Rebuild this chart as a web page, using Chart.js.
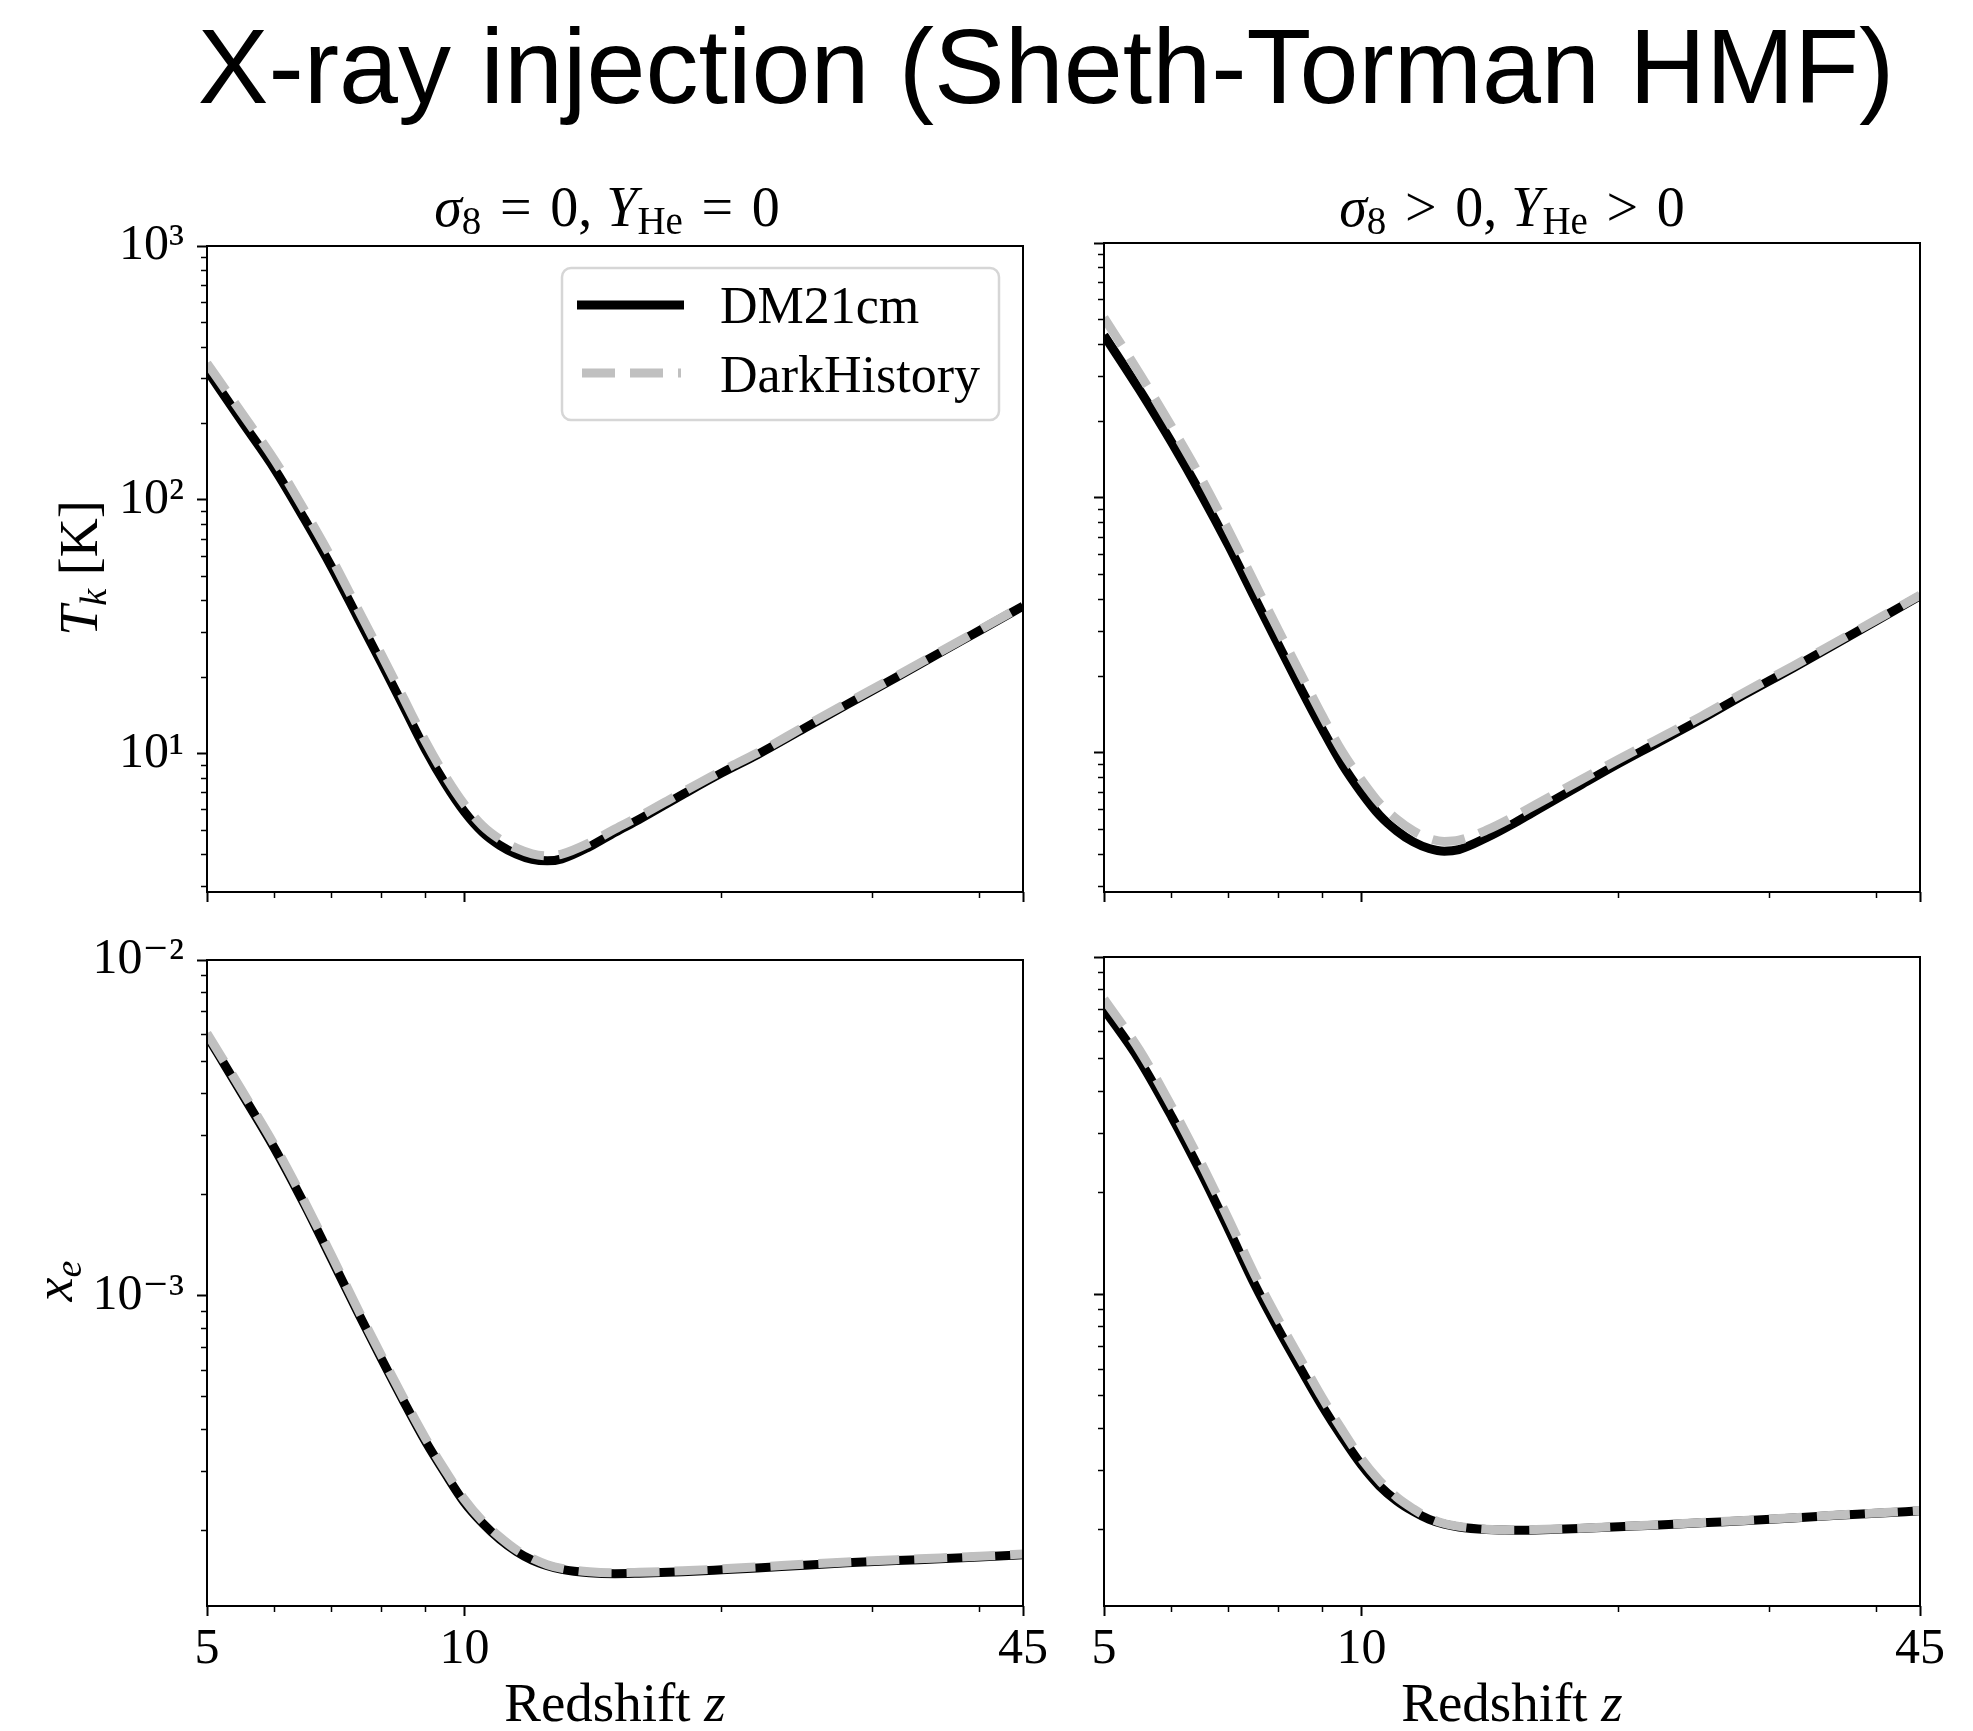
<!DOCTYPE html>
<html><head><meta charset="utf-8">
<script src="https://cdn.jsdelivr.net/npm/chart.js@4.4.1/dist/chart.umd.min.js"></script>
<style>
html,body{margin:0;padding:0;background:#fff;}
#wrap{position:relative;width:1973px;height:1731px;overflow:hidden;background:#fff;}
canvas{position:absolute;}
#ov{position:absolute;left:0;top:0;}
#ov text{white-space:pre;}
</style></head><body>
<div id="wrap">
<canvas id="cTL"></canvas>
<canvas id="cTR"></canvas>
<canvas id="cBL"></canvas>
<canvas id="cBR"></canvas>
<svg id="ov" width="1973" height="1731" xmlns="http://www.w3.org/2000/svg">
  <text x="1046" y="103" text-anchor="middle" font-family="Liberation Sans, Arial, Helvetica, sans-serif" font-size="106" fill="#000">X-ray injection (Sheth-Torman HMF)</text>
  <g font-family="Liberation Serif, DejaVu Serif, serif" fill="#000">
    <text x="607" y="226" text-anchor="middle" font-size="56"><tspan font-style="italic">σ</tspan><tspan font-size="39" dy="8">8</tspan><tspan dy="-8">&#8196;=&#8196;0, </tspan><tspan font-style="italic">Y</tspan><tspan font-size="39" dy="8">He</tspan><tspan dy="-8">&#8196;=&#8196;0</tspan></text>
    <text x="1512" y="226" text-anchor="middle" font-size="56"><tspan font-style="italic">σ</tspan><tspan font-size="39" dy="8">8</tspan><tspan dy="-8">&#8196;&gt;&#8196;0, </tspan><tspan font-style="italic">Y</tspan><tspan font-size="39" dy="8">He</tspan><tspan dy="-8">&#8196;&gt;&#8196;0</tspan></text>
    <text transform="translate(97,568) rotate(-90)" text-anchor="middle" font-size="54"><tspan font-style="italic">T</tspan><tspan font-style="italic" font-size="38" dy="9">k</tspan><tspan dy="-9"> [K]</tspan></text>
    <text transform="translate(72,1281) rotate(-90)" text-anchor="middle" font-size="54"><tspan font-style="italic">x</tspan><tspan font-style="italic" font-size="38" dy="9">e</tspan></text>
    <text x="615" y="1721" text-anchor="middle" font-size="55">Redshift <tspan font-style="italic">z</tspan></text>
    <text x="1512" y="1721" text-anchor="middle" font-size="55">Redshift <tspan font-style="italic">z</tspan></text>
    <rect x="562" y="268" width="437" height="152" rx="9" ry="9" fill="#fff" fill-opacity="0.8" stroke="#d6d6d6" stroke-width="2.5"/>
    <line x1="577" y1="305" x2="684" y2="305" stroke="#000" stroke-width="9"/>
    <line x1="582" y1="373" x2="681" y2="373" stroke="#c0c0c0" stroke-width="9" stroke-dasharray="33 15"/>
    <text x="720" y="323" font-size="52">DM21cm</text>
    <text x="720" y="392" font-size="52">DarkHistory</text>
  </g>
</svg>
</div>
<script>
// ---------------- data ----------------
const redshift = [5, 5.5, 6, 6.5, 7, 7.5, 8, 8.5, 9, 9.5, 10, 10.5, 11, 11.5, 12, 12.5, 13, 14, 15, 16, 18, 20, 22, 25, 28, 32, 36, 40, 45];

// Tk [K], sigma8 = 0, YHe = 0
const tkDM21cmNoStruct      = [324, 202, 132, 84, 54, 34.5, 22.7, 15.2, 10.4, 7.6, 5.9, 4.9, 4.35, 4.02, 3.83, 3.78, 3.85, 4.3, 4.9, 5.5, 6.9, 8.4, 9.9, 12.6, 15.6, 20.0, 25.0, 30.5, 38.1];
const tkDarkHistoryNoStruct = [345, 218, 143, 91, 58.5, 37.3, 24.5, 16.4, 11.2, 8.15, 6.3, 5.2, 4.6, 4.24, 4.03, 3.96, 4.02, 4.45, 5.05, 5.65, 7.05, 8.55, 10.05, 12.8, 15.8, 20.2, 25.2, 30.7, 38.3];
// Tk [K], sigma8 > 0, YHe > 0
const tkDM21cmStruct        = [435, 266, 165, 103, 64.7, 40.7, 26.5, 17.8, 12.4, 9.0, 7.0, 5.7, 4.95, 4.48, 4.22, 4.12, 4.18, 4.65, 5.25, 5.95, 7.45, 9.1, 10.8, 13.6, 16.9, 21.6, 27.0, 33.0, 41.3];
const tkDarkHistoryStruct   = [510, 308, 190, 119, 74, 46.5, 30.2, 20.3, 14.0, 10.1, 7.85, 6.35, 5.5, 4.95, 4.62, 4.5, 4.55, 4.98, 5.58, 6.28, 7.8, 9.45, 11.15, 13.95, 17.25, 21.95, 27.35, 33.3, 41.6];

// xe, sigma8 = 0, YHe = 0
const xeDM21cmNoStruct      = [5.95e-3, 3.98e-3, 2.74e-3, 1.87e-3, 1.28e-3, 8.95e-4, 6.48e-4, 4.82e-4, 3.69e-4, 2.95e-4, 2.42e-4, 2.10e-4, 1.88e-4, 1.73e-4, 1.63e-4, 1.57e-4, 1.53e-4, 1.495e-4, 1.485e-4, 1.49e-4, 1.505e-4, 1.525e-4, 1.545e-4, 1.575e-4, 1.60e-4, 1.625e-4, 1.645e-4, 1.665e-4, 1.69e-4];
const xeDarkHistoryNoStruct = [6.05e-3, 4.06e-3, 2.80e-3, 1.91e-3, 1.31e-3, 9.15e-4, 6.62e-4, 4.92e-4, 3.77e-4, 3.01e-4, 2.47e-4, 2.13e-4, 1.91e-4, 1.75e-4, 1.65e-4, 1.58e-4, 1.54e-4, 1.505e-4, 1.495e-4, 1.50e-4, 1.515e-4, 1.535e-4, 1.555e-4, 1.585e-4, 1.61e-4, 1.635e-4, 1.655e-4, 1.675e-4, 1.70e-4];
// xe, sigma8 > 0, YHe > 0
const xeDM21cmStruct        = [7.0e-3, 4.95e-3, 3.36e-3, 2.28e-3, 1.55e-3, 1.07e-3, 7.85e-4, 5.98e-4, 4.66e-4, 3.76e-4, 3.12e-4, 2.70e-4, 2.44e-4, 2.27e-4, 2.15e-4, 2.08e-4, 2.04e-4, 2.005e-4, 1.995e-4, 2.0e-4, 2.02e-4, 2.045e-4, 2.065e-4, 2.10e-4, 2.13e-4, 2.17e-4, 2.21e-4, 2.24e-4, 2.28e-4];
const xeDarkHistoryStruct   = [7.5e-3, 5.3e-3, 3.6e-3, 2.44e-3, 1.66e-3, 1.145e-3, 8.38e-4, 6.37e-4, 4.93e-4, 3.95e-4, 3.25e-4, 2.80e-4, 2.50e-4, 2.31e-4, 2.17e-4, 2.09e-4, 2.05e-4, 2.01e-4, 2.0e-4, 2.005e-4, 2.025e-4, 2.05e-4, 2.07e-4, 2.105e-4, 2.135e-4, 2.175e-4, 2.215e-4, 2.245e-4, 2.285e-4];

// ticks
const xTickMajor = [5, 10, 45];
const xTickLabels = ['5', '10', '45'];
const xTickMinor = [6, 7, 8, 9, 20, 30, 40];
const tkTickMajor = [10, 100, 1000];
const tkTickLabels = ['10¹', '10²', '10³'];
const tkTickMinor = [3, 4, 5, 6, 7, 8, 9, 20, 30, 40, 50, 60, 70, 80, 90, 200, 300, 400, 500, 600, 700, 800, 900];
const xeTickMajor = [0.001, 0.01];
const xeTickLabels = ['10⁻³', '10⁻²'];
const xeTickMinor = [2e-4, 3e-4, 4e-4, 5e-4, 6e-4, 7e-4, 8e-4, 9e-4, 2e-3, 3e-3, 4e-3, 5e-3, 6e-3, 7e-3, 8e-3, 9e-3];

// ---------------- layout ----------------
const PAD_L = 200, PAD_T = 40, PAD_R = 40, PAD_B = 90;
const PW = 816, PH = 649;
const SERIF = "'Liberation Serif', 'DejaVu Serif', serif";

const framePlugin = {
  id: 'frame',
  afterDatasetsDraw(chart) {
    const {ctx, chartArea: a} = chart;
    ctx.save();
    ctx.strokeStyle = '#000';
    ctx.lineWidth = 2;
    ctx.strokeRect(a.left, a.top, a.right - a.left, a.bottom - a.top);
    ctx.restore();
  }
};

function pts(ys) { return redshift.map((z, i) => ({x: z, y: ys[i]})); }

function makePanel(id, left, top, yMin, yMax, yMajor, yLabels, yMinor, dm, dh, showX, showY) {
  const cv = document.getElementById(id);
  cv.width = PAD_L + PW + PAD_R;
  cv.height = PAD_T + PH + PAD_B;
  cv.style.left = (left - PAD_L) + 'px';
  cv.style.top = (top - PAD_T) + 'px';
  const tickFont = {family: SERIF, size: 50};
  new Chart(cv, {
    type: 'line',
    data: {
      datasets: [
        {label: 'DarkHistory', data: pts(dh), xAxisID: 'x', yAxisID: 'y', borderColor: '#c0c0c0', borderWidth: 9,
         borderDash: [33, 15], borderCapStyle: 'butt', pointRadius: 0, fill: false, order: 0,
         cubicInterpolationMode: 'monotone', clip: 0},
        {label: 'DM21cm', data: pts(dm), xAxisID: 'x', yAxisID: 'y', borderColor: '#000', borderWidth: 9,
         borderCapStyle: 'butt', pointRadius: 0, fill: false, order: 1,
         cubicInterpolationMode: 'monotone', clip: 0}
      ]
    },
    options: {
      responsive: false, animation: false, devicePixelRatio: 1,
      layout: {padding: {left: 0, top: PAD_T, right: PAD_R, bottom: 0}},
      plugins: {legend: {display: false}, tooltip: {enabled: false}},
      scales: {
        x: {
          type: 'logarithmic', position: 'bottom', weight: 1, min: 5, max: 45,
          afterBuildTicks: s => { s.ticks = xTickMajor.map(v => ({value: v})); },
          afterFit: s => { s.height = PAD_B; },
          ticks: {display: showX, autoSkip: false, maxRotation: 0, minRotation: 0, padding: 4, color: '#000', font: tickFont,
                  callback: v => xTickLabels[xTickMajor.indexOf(v)]},
          grid: {drawOnChartArea: false, drawTicks: true, tickLength: 10, tickWidth: 2, tickColor: '#000'},
          border: {display: false}
        },
        xm: {
          type: 'logarithmic', position: 'bottom', weight: 0, min: 5, max: 45,
          afterBuildTicks: s => { s.ticks = xTickMinor.map(v => ({value: v})); },
          afterFit: s => { s.height = 0; },
          ticks: {display: false},
          grid: {drawOnChartArea: false, drawTicks: true, tickLength: 6, tickWidth: 1.5, tickColor: '#000'},
          border: {display: false}
        },
        y: {
          type: 'logarithmic', position: 'left', weight: 1, min: yMin, max: yMax,
          afterBuildTicks: s => { s.ticks = yMajor.map(v => ({value: v})); },
          afterFit: s => { s.width = PAD_L; },
          ticks: {display: showY, autoSkip: false, padding: 13, color: '#000', font: tickFont,
                  callback: v => yLabels[yMajor.findIndex(m => Math.abs(m - v) / m < 1e-6)]},
          grid: {drawOnChartArea: false, drawTicks: true, tickLength: 10, tickWidth: 2, tickColor: '#000'},
          border: {display: false}
        },
        ym: {
          type: 'logarithmic', position: 'left', weight: 0, min: yMin, max: yMax,
          afterBuildTicks: s => { s.ticks = yMinor.map(v => ({value: v})); },
          afterFit: s => { s.width = 0; },
          ticks: {display: false},
          grid: {drawOnChartArea: false, drawTicks: true, tickLength: 6, tickWidth: 1.5, tickColor: '#000'},
          border: {display: false}
        }
      }
    },
    plugins: [framePlugin]
  });
}

makePanel('cTL', 207, 243, 2.85, 1000, tkTickMajor, tkTickLabels, tkTickMinor, tkDM21cmNoStruct, tkDarkHistoryNoStruct, false, true);
makePanel('cTR', 1104, 243, 2.85, 1000, tkTickMajor, tkTickLabels, tkTickMinor, tkDM21cmStruct, tkDarkHistoryStruct, false, false);
makePanel('cBL', 207, 957, 1.19e-4, 1e-2, xeTickMajor, xeTickLabels, xeTickMinor, xeDM21cmNoStruct, xeDarkHistoryNoStruct, true, true);
makePanel('cBR', 1104, 957, 1.19e-4, 1e-2, xeTickMajor, xeTickLabels, xeTickMinor, xeDM21cmStruct, xeDarkHistoryStruct, true, false);
</script>
</body></html>
